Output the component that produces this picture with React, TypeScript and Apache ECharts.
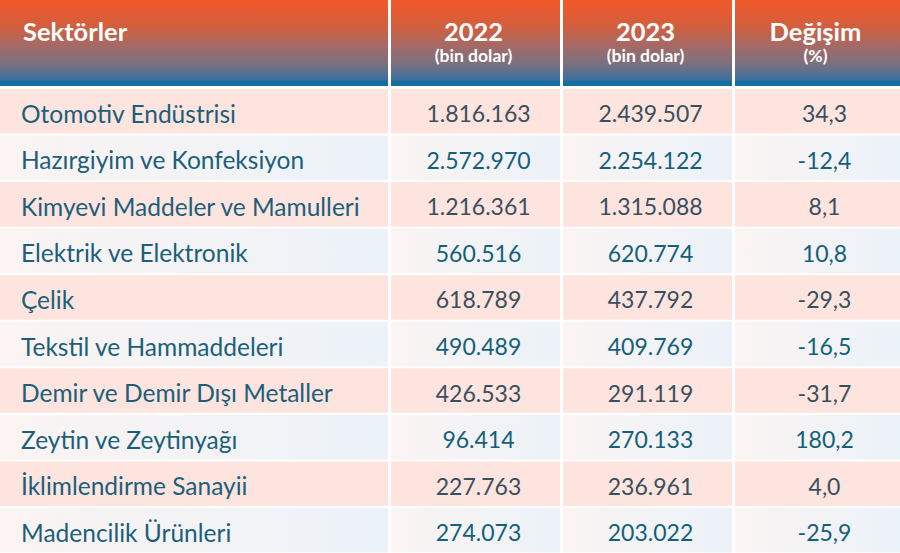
import React, { useEffect, useRef } from "react";
import * as echarts from "echarts";

// ---- data ----
const SECTORS = [
  "Otomotiv Endüstrisi",
  "Hazırgiyim ve Konfeksiyon",
  "Kimyevi Maddeler ve Mamulleri",
  "Elektrik ve Elektronik",
  "Çelik",
  "Tekstil ve Hammaddeleri",
  "Demir ve Demir Dışı Metaller",
  "Zeytin ve Zeytinyağı",
  "İklimlendirme Sanayii",
  "Madencilik Ürünleri",
];
const V2022 = [1816163, 2572970, 1216361, 560516, 618789, 490489, 426533, 96414, 227763, 274073];
const V2023 = [2439507, 2254122, 1315088, 620774, 437792, 409769, 291119, 270133, 236961, 203022];
const CHANGE = [34.3, -12.4, 8.1, 10.8, -29.3, -16.5, -31.7, 180.2, 4.0, -25.9];
const HEADERS = ["Sektörler", "2022", "2023", "Değişim"];
const SUBHEADERS = ["", "(bin dolar)", "(bin dolar)", "(%)"];

// ---- layout ----
const COL_EDGES = [0, 389.5, 561.5, 733.5, 900];
const HALF_GAP = 1.5;
const TEXT_SHIFT = [21, 3, 3, 7];
const HEADER_SHIFT = [23, -2, -2, -2];

const fmtInt = (n: number) => String(n).replace(/\B(?=(\d{3})+(?!\d))/g, ".");
const fmtPct = (v: number) => v.toFixed(1).replace(".", ",");

function cellText(col: number, row: number): string {
  if (col === 0) return SECTORS[row];
  if (col === 1) return fmtInt(V2022[row]);
  if (col === 2) return fmtInt(V2023[row]);
  return fmtPct(CHANGE[row]);
}

const FONT = "Lato, 'Noto Sans', sans-serif";

export default function App() {
  const ref = useRef<HTMLDivElement>(null);
  useEffect(() => {
    const chart = echarts.init(ref.current!, null, { renderer: "svg" });

    const bodyData: number[][] = [];
    SECTORS.forEach((_, r) => {
      for (let c = 0; c < 4; c++) bodyData.push([c, r]);
    });
    const headData = HEADERS.map((_, c) => [c, 0]);

    const cellBounds = (api: any, col: number, row: number) => {
      const x0 = api.coord([COL_EDGES[col], row])[0] + (col > 0 ? HALF_GAP : 0);
      const x1 = api.coord([COL_EDGES[col + 1], row])[0] - (col < 3 ? HALF_GAP : 0);
      return [x0, x1];
    };

    const option: any = {
      animation: false,
      backgroundColor: "#ffffff",
      grid: [
        { left: 0, right: 0, top: 87.5, bottom: 0 },
        { left: 0, right: 0, top: 0, height: 86 },
      ],
      xAxis: [
        { type: "value", min: 0, max: 900, show: false, gridIndex: 0 },
        { type: "value", min: 0, max: 900, show: false, gridIndex: 1 },
      ],
      yAxis: [
        { type: "category", data: SECTORS, inverse: true, show: false, gridIndex: 0 },
        { type: "category", data: ["header"], show: false, gridIndex: 1 },
      ],
      series: [
        {
          type: "custom",
          xAxisIndex: 0,
          yAxisIndex: 0,
          silent: true,
          data: bodyData,
          renderItem: (params: any, api: any) => {
            const col = api.value(0);
            const row = api.value(1);
            const bandH = api.size([0, 1])[1];
            const cy = api.coord([0, row])[1];
            const [x0, x1] = cellBounds(api, col, row);
            const pink = row % 2 === 0;
            const fill = pink
              ? "#fde4df"
              : new echarts.graphic.LinearGradient(0, 0, 1, 0, [
                  { offset: 0, color: "#fbf4f3" },
                  { offset: 1, color: "#ebf2f8" },
                ]);
            const textColor = col === 0 ? "#1c5f7b" : pink ? "#3a4f5d" : "#135f7c";
            const tx = col === 0 ? x0 + TEXT_SHIFT[0] : (x0 + x1) / 2 + TEXT_SHIFT[col];
            return {
              type: "group",
              children: [
                {
                  type: "rect",
                  shape: { x: x0, y: cy - bandH / 2 + 1.5, width: x1 - x0, height: bandH - 2 },
                  style: { fill },
                },
                {
                  type: "text",
                  style: {
                    text: cellText(col, row),
                    x: tx,
                    y: cy + 2.5,
                    align: col === 0 ? "left" : "center",
                    verticalAlign: "middle",
                    fontFamily: FONT,
                    fontSize: col === 0 ? 24.5 : 23,
                    fill: textColor,
                  },
                },
              ],
            };
          },
        },
        {
          type: "custom",
          xAxisIndex: 1,
          yAxisIndex: 1,
          silent: true,
          data: headData,
          renderItem: (params: any, api: any) => {
            const col = api.value(0);
            const bandH = api.size([0, 1])[1];
            const cy = api.coord([0, 0])[1];
            const [x0, x1] = cellBounds(api, col, 0);
            const top = cy - bandH / 2;
            const children: any[] = [
              {
                type: "rect",
                shape: { x: x0, y: top, width: x1 - x0, height: bandH },
                style: {
                  fill: new echarts.graphic.LinearGradient(0, 0, 0, 1, [
                    { offset: 0, color: "#f25829" },
                    { offset: 0.3, color: "#d35f3e" },
                    { offset: 0.55, color: "#a26a68" },
                    { offset: 0.75, color: "#797181" },
                    { offset: 0.93, color: "#3a70a0" },
                    { offset: 0.94, color: "#1a6c9e" },
                    { offset: 1, color: "#1a6c9e" },
                  ]),
                },
              },
            ];
            if (col === 0) {
              children.push({
                type: "text",
                style: {
                  text: HEADERS[0],
                  x: x0 + HEADER_SHIFT[0],
                  y: top + 30.5,
                  align: "left",
                  verticalAlign: "middle",
                  fontFamily: FONT,
                  fontWeight: "bold",
                  fontSize: 25.5,
                  fill: "#ffffff",
                },
              });
            } else {
              const cx = (x0 + x1) / 2 + HEADER_SHIFT[col];
              children.push({
                type: "text",
                style: {
                  text: HEADERS[col],
                  x: cx,
                  y: top + 30.5,
                  align: "center",
                  verticalAlign: "middle",
                  fontFamily: FONT,
                  fontWeight: "bold",
                  fontSize: 25.5,
                  fill: "#ffffff",
                },
              });
              children.push({
                type: "text",
                style: {
                  text: SUBHEADERS[col],
                  x: cx,
                  y: top + 55,
                  align: "center",
                  verticalAlign: "middle",
                  fontFamily: FONT,
                  fontWeight: "bold",
                  fontSize: 17.5,
                  fill: "#ffffff",
                },
              });
            }
            return { type: "group", children };
          },
        },
      ],
    };
    chart.setOption(option);
    return () => chart.dispose();
  }, []);
  return (
    <div
      ref={ref}
      style={{ position: "fixed", left: 0, top: 0, width: 900, height: 553 }}
    />
  );
}
